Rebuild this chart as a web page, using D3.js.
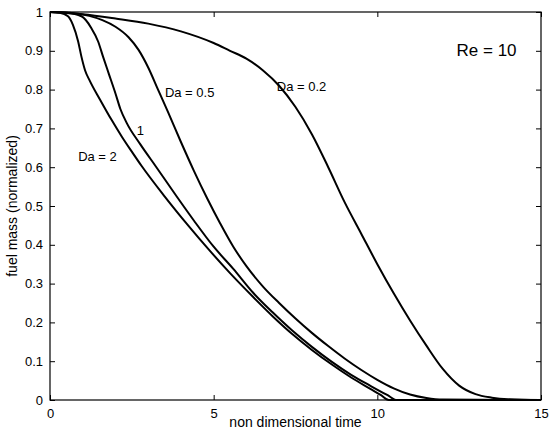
<!DOCTYPE html>
<html>
<head>
<meta charset="utf-8">
<script src="https://cdn.jsdelivr.net/npm/d3@7/dist/d3.min.js"></script>
<style>
  html, body { margin: 0; padding: 0; background: #fff; }
  svg { display: block; font-family: "Liberation Sans", Arial, Helvetica, sans-serif; }
</style>
</head>
<body>
<svg id="chart" width="558" height="436"></svg>
<script>
// Fuel mass history for several Damköhler numbers at Re = 10
const timeDa02 = [0, 1, 2, 3, 4, 5, 5.5, 6, 6.5, 7, 7.5, 8, 8.5, 9, 9.5, 10, 10.5, 11, 11.5, 12, 12.5, 13, 13.5, 14, 15];
const massDa02 = [1, 0.994, 0.983, 0.97, 0.95, 0.92, 0.9, 0.88, 0.85, 0.81, 0.755, 0.685, 0.6, 0.51, 0.43, 0.35, 0.275, 0.205, 0.14, 0.08, 0.037, 0.015, 0.006, 0.002, 0];

const timeDa05 = [0, 0.6, 1.2, 1.6, 2.0, 2.4, 2.7, 3.0, 3.3, 3.6, 4.0, 4.4, 4.8, 5.2, 5.6, 6.0, 6.5, 7.0, 7.5, 8.0, 8.5, 9.0, 9.5, 10.0, 10.5, 11.0, 11.5, 12.0, 15];
const massDa05 = [1, 0.998, 0.99, 0.979, 0.962, 0.935, 0.903, 0.857, 0.8, 0.743, 0.665, 0.59, 0.52, 0.455, 0.395, 0.345, 0.293, 0.25, 0.21, 0.173, 0.139, 0.107, 0.078, 0.052, 0.03, 0.014, 0.005, 0.001, 0];

const timeDa1 = [0, 0.5, 0.96, 1.26, 1.47, 1.62, 1.8, 2.0, 2.15, 2.35, 2.75, 3.25, 3.85, 4.4, 5.0, 5.6, 6.2, 6.8, 7.4, 8.0, 8.6, 9.2, 9.8, 10.3, 10.6, 15];
const massDa1 = [1, 0.998, 0.989, 0.959, 0.924, 0.885, 0.84, 0.79, 0.75, 0.713, 0.66, 0.6, 0.527, 0.462, 0.395, 0.338, 0.277, 0.226, 0.179, 0.137, 0.099, 0.065, 0.036, 0.013, 0, 0];

const timeDa2 = [0, 0.3, 0.55, 0.7, 0.86, 0.96, 1.07, 1.22, 1.53, 1.88, 2.2, 2.5, 2.8, 3.5, 4.2, 4.9, 5.5, 6.2, 6.8, 7.4, 8.0, 8.6, 9.2, 9.8, 10.1, 10.35, 15];
const massDa2 = [1, 0.998, 0.989, 0.967, 0.924, 0.885, 0.85, 0.822, 0.774, 0.722, 0.678, 0.64, 0.603, 0.525, 0.452, 0.383, 0.327, 0.266, 0.216, 0.17, 0.129, 0.092, 0.058, 0.028, 0.013, 0, 0];

const xTicks = [0, 5, 10, 15];
const yTicks = [0, 0.1, 0.2, 0.3, 0.4, 0.5, 0.6, 0.7, 0.8, 0.9, 1];

const seriesList = [
  { t: timeDa02, m: massDa02 },
  { t: timeDa05, m: massDa05 },
  { t: timeDa1,  m: massDa1 },
  { t: timeDa2,  m: massDa2 }
];

// Curve labels placed in data coordinates
const curveLabels = [
  { text: "Da = 0.2", t: 6.93, m: 0.806, size: 13 },
  { text: "Da = 0.5", t: 3.51, m: 0.790, size: 13 },
  { text: "1",        t: 2.65, m: 0.692, size: 13 },
  { text: "Da = 2",   t: 0.86, m: 0.625, size: 13 },
  { text: "Re = 10",  t: 12.42, m: 0.897, size: 17 }
];

const svg = d3.select("#chart");
const padL = 50, padR = 541, padT = 12, padB = 400;

const x = d3.scaleLinear().domain([0, 15]).range([padL, padR]);
const y = d3.scaleLinear().domain([0, 1]).range([padB, padT]);

const fmt = d => d === 0 ? "0" : d === 1 ? "1" : d3.format(".1f")(d);

// Axes: ticks point inward, mirrored on the opposite sides
svg.append("g").attr("transform", `translate(0,${padB})`)
  .call(d3.axisBottom(x).tickValues(xTicks).tickSize(-5).tickPadding(9).tickFormat(d3.format("d")))
  .call(g => g.select(".domain").remove());
svg.append("g").attr("transform", `translate(0,${padT})`)
  .call(d3.axisTop(x).tickValues(xTicks).tickSize(-5).tickFormat(""))
  .call(g => g.select(".domain").remove());
svg.append("g").attr("transform", `translate(${padL},0)`)
  .call(d3.axisLeft(y).tickValues(yTicks).tickSize(-5).tickPadding(7).tickFormat(fmt))
  .call(g => g.select(".domain").remove());
svg.append("g").attr("transform", `translate(${padR},0)`)
  .call(d3.axisRight(y).tickValues(yTicks).tickSize(-5).tickFormat(""))
  .call(g => g.select(".domain").remove());

svg.selectAll(".tick line").attr("stroke", "#000").attr("stroke-width", 1);
svg.selectAll(".tick text").attr("fill", "#000").attr("font-size", 13)
  .attr("font-family", "'Liberation Sans', Arial, sans-serif");

// Frame
svg.append("rect")
  .attr("x", padL).attr("y", padT)
  .attr("width", padR - padL).attr("height", padB - padT)
  .attr("fill", "none").attr("stroke", "#000").attr("stroke-width", 1.2);

// Curves
const line = d3.line()
  .x(d => x(d[0]))
  .y(d => y(d[1]))
  .curve(d3.curveMonotoneX);

svg.append("g").selectAll("path")
  .data(seriesList)
  .join("path")
  .attr("d", s => line(s.t.map((t, i) => [t, s.m[i]])))
  .attr("fill", "none")
  .attr("stroke", "#000")
  .attr("stroke-width", 2)
  .attr("stroke-linejoin", "round");

// Labels
svg.append("g").selectAll("text")
  .data(curveLabels)
  .join("text")
  .attr("x", d => x(d.t))
  .attr("y", d => y(d.m))
  .attr("dominant-baseline", "middle")
  .attr("font-size", d => d.size)
  .attr("fill", "#000")
  .text(d => d.text);

// Axis titles
svg.append("text")
  .attr("x", (padL + padR) / 2).attr("y", 427)
  .attr("text-anchor", "middle").attr("font-size", 14).attr("fill", "#000")
  .text("non dimensional time");

svg.append("text")
  .attr("transform", `translate(17,${(padT + padB) / 2}) rotate(-90)`)
  .attr("text-anchor", "middle").attr("font-size", 14).attr("fill", "#000")
  .text("fuel mass (normalized)");
</script>
</body>
</html>
